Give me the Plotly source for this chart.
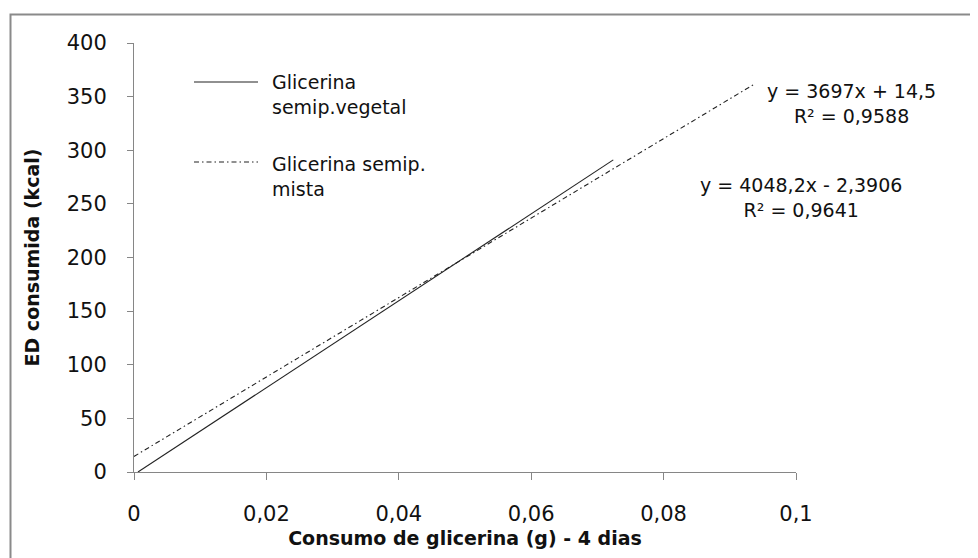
import plotly.graph_objects as go

# Data
x_vegetal = [0.0006, 0.0724]
y_vegetal = [0, 291]
x_mista = [0, 0.0938]
y_mista = [14.5, 362]

series_names = ["Glicerina<br>semip.vegetal", "Glicerina semip.<br>mista"]
eq_mista = "y = 3697x + 14,5<br>R² = 0,9588"
eq_vegetal = "y = 4048,2x - 2,3906<br>R² = 0,9641"

x_tickvals = [0, 0.02, 0.04, 0.06, 0.08, 0.1]
x_ticktext = ["0", "0,02", "0,04", "0,06", "0,08", "0,1"]
y_tickvals = [0, 50, 100, 150, 200, 250, 300, 350, 400]
y_ticktext = ["0", "50", "100", "150", "200", "250", "300", "350", "400"]

FONT = "DejaVu Sans"
TXT = "#111111"
AXC = "#868686"
DASHDOT = "5px,3px,1.5px,3px"

# page body adds an 8px margin; work in reference pixels and shift
OFF = 8
W, H = 978 - OFF, 558 - OFF
L, R, T, B = 134 - OFF, 796 - OFF, 43 - OFF, 472 - OFF
pw, ph = R - L, B - T

def px(xr):
    return (xr - OFF - L) / pw

def py(yr):
    return (B - (yr - OFF)) / ph

fig = go.Figure()
fig.add_trace(go.Scatter(x=x_vegetal, y=y_vegetal, mode="lines",
                         name=series_names[0], showlegend=False,
                         line=dict(color="#222222", width=1.1)))
fig.add_trace(go.Scatter(x=x_mista, y=y_mista, mode="lines",
                         name=series_names[1], showlegend=False,
                         line=dict(color="#222222", width=1.1, dash=DASHDOT)))

shapes = [
    # outer chart border
    dict(type="rect", xref="paper", yref="paper",
         x0=px(10.5), x1=px(1000), y0=py(580), y1=py(14.5),
         line=dict(color="#8a8a8a", width=2), layer="below"),
    # legend samples
    dict(type="line", xref="paper", yref="paper",
         x0=px(194), x1=px(258), y0=py(82), y1=py(82),
         line=dict(color="#222222", width=1.1)),
    dict(type="line", xref="paper", yref="paper",
         x0=px(194), x1=px(258), y0=py(162), y1=py(162),
         line=dict(color="#222222", width=1.1, dash=DASHDOT)),
]

annotations = [
    dict(text=series_names[0], xref="paper", yref="paper", x=px(270), y=py(94.5),
         xanchor="left", yanchor="middle", align="left", showarrow=False,
         font=dict(family=FONT, size=19, color=TXT)),
    dict(text=series_names[1], xref="paper", yref="paper", x=px(270), y=py(176.5),
         xanchor="left", yanchor="middle", align="left", showarrow=False,
         font=dict(family=FONT, size=19, color=TXT)),
    dict(text=eq_mista, xref="paper", yref="paper", x=px(851), y=py(104),
         xanchor="center", yanchor="middle", align="center", showarrow=False,
         font=dict(family=FONT, size=19, color=TXT)),
    dict(text=eq_vegetal, xref="paper", yref="paper", x=px(801), y=py(197.5),
         xanchor="center", yanchor="middle", align="center", showarrow=False,
         font=dict(family=FONT, size=19, color=TXT)),
]

fig.update_layout(
    width=W, height=H,
    margin=dict(l=L, r=W - R, t=T, b=H - B, pad=0),
    paper_bgcolor="white", plot_bgcolor="white",
    showlegend=False,
    shapes=shapes, annotations=annotations,
    font=dict(family=FONT, size=19, color=TXT),
)
fig.update_xaxes(
    range=[0, 0.1], tickvals=x_tickvals, ticktext=x_ticktext,
    showgrid=False, zeroline=False, showline=True, linecolor=AXC, linewidth=1,
    ticks="outside", ticklen=7, tickcolor=AXC, tickwidth=1,
    ticklabelstandoff=16,
    tickfont=dict(family=FONT, size=21, color=TXT),
    title=dict(text="<b>Consumo de glicerina (g) - 4 dias</b>", standoff=6,
               font=dict(family=FONT, size=19, color=TXT)),
    automargin=False,
)
fig.update_yaxes(
    range=[0, 400], tickvals=y_tickvals, ticktext=y_ticktext,
    showgrid=False, zeroline=False, showline=True, linecolor=AXC, linewidth=1,
    ticks="outside", ticklen=6, tickcolor=AXC, tickwidth=1,
    ticklabelstandoff=16,
    tickfont=dict(family=FONT, size=21, color=TXT),
    title=dict(text="<b>ED consumida (kcal)</b>", standoff=22,
               font=dict(family=FONT, size=19, color=TXT)),
    automargin=False,
)

fig.write_html("out.html")
